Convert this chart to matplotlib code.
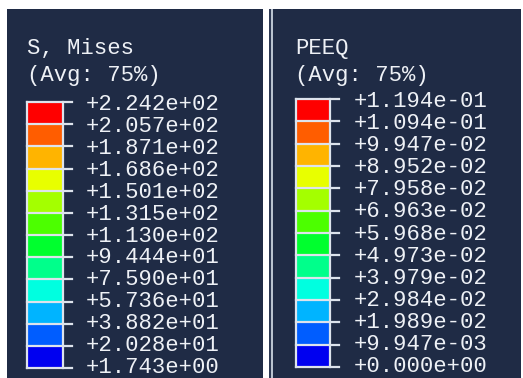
import matplotlib.pyplot as plt
from matplotlib.patches import Rectangle

# contour legend values (top to bottom)
mises_title = ["S, Mises", "(Avg: 75%)"]
mises_labels = ["+2.242e+02", "+2.057e+02", "+1.871e+02", "+1.686e+02",
                "+1.501e+02", "+1.315e+02", "+1.130e+02", "+9.444e+01",
                "+7.590e+01", "+5.736e+01", "+3.882e+01", "+2.028e+01",
                "+1.743e+00"]

peeq_title = ["PEEQ", "(Avg: 75%)"]
peeq_labels = ["+1.194e-01", "+1.094e-01", "+9.947e-02", "+8.952e-02",
               "+7.958e-02", "+6.963e-02", "+5.968e-02", "+4.973e-02",
               "+3.979e-02", "+2.984e-02", "+1.989e-02", "+9.947e-03",
               "+0.000e+00"]

# rainbow spectrum, red at top down to blue
band_colors = ["#ff0000", "#ff5d00", "#ffb400", "#e8ff00", "#a4ff00",
               "#4cff00", "#00ff2e", "#00ff8b", "#00ffe0", "#00b4ff",
               "#005dff", "#0000f0"]

W, H = 523, 378
BG = "#1f2b45"
LINE = "#dde3ec"
FONT = dict(family="Liberation Mono", size=16.0, color="#eef1f6")

fig = plt.figure(figsize=(W / 100, H / 100), dpi=100, facecolor="white")
ax = fig.add_axes([0, 0, 1, 1])
ax.set_xlim(0, W)
ax.set_ylim(H, 0)
ax.axis("off")

# panel backgrounds and the divider between them
ax.add_patch(Rectangle((7, 9), 256, H - 9, color=BG, lw=0))
ax.add_patch(Rectangle((269, 9), 2, H - 9, color="#2c3852", lw=0))
ax.add_patch(Rectangle((271, 9), 2, H - 9, color="#b9c3cf", lw=0))
ax.add_patch(Rectangle((273, 9), 248, H - 9, color=BG, lw=0))


def draw_legend(title, labels, text_x, bar_left, bar_right, top, bottom, label_x):
    ax.text(text_x, 54, title[0], va="baseline", ha="left", **FONT)
    ax.text(text_x, 81, title[1], va="baseline", ha="left", **FONT)

    n = len(band_colors)
    step = (bottom - top) / n
    edges = [top + i * step for i in range(n + 1)]
    ax.bar([(bar_left + bar_right) / 2] * n, [step] * n,
           bottom=edges[:-1], width=bar_right - bar_left,
           color=band_colors, linewidth=0)

    # frame and tick lines
    ax.plot([bar_left, bar_left], [top, bottom], color=LINE, lw=1.6)
    ax.plot([bar_right, bar_right], [top, bottom], color=LINE, lw=1.6)
    for i, (y, lab) in enumerate(zip(edges, labels)):
        ax.plot([bar_left, bar_right + 9], [y, y], color=LINE, lw=1.6)
        ax.text(label_x, y + 8 - 3 * i / n, lab, va="baseline", ha="left", **FONT)


draw_legend(mises_title, mises_labels, 27, 27, 63, 102, 368, 86)
draw_legend(peeq_title, peeq_labels, 295, 296, 330, 99, 367, 354)

fig.savefig("out.png", dpi=100, facecolor="white")
